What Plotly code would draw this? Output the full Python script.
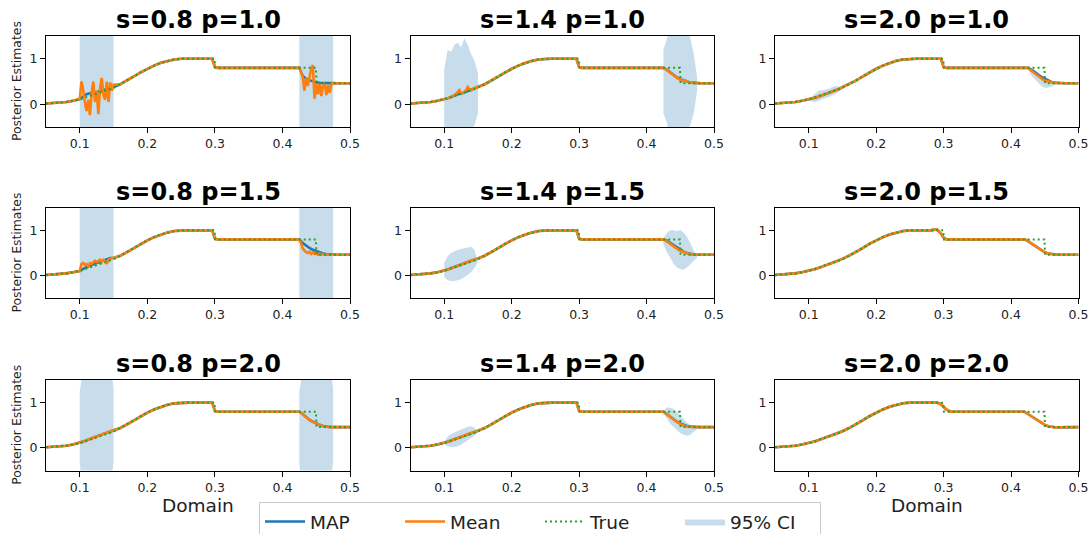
import plotly.graph_objects as go

# ---------------- data ----------------
PANEL_TITLES = ["s=0.8 p=1.0", "s=1.4 p=1.0", "s=2.0 p=1.0",
                "s=0.8 p=1.5", "s=1.4 p=1.5", "s=2.0 p=1.5",
                "s=0.8 p=2.0", "s=1.4 p=2.0", "s=2.0 p=2.0"]

X_TICKS = [0.1, 0.2, 0.3, 0.4, 0.5]
X_TICK_LABELS = ["0.1", "0.2", "0.3", "0.4", "0.5"]
Y_TICKS = [0, 1]
Y_TICK_LABELS = ["0", "1"]

TRUE_X = [0.05, 0.06, 0.07, 0.08, 0.09, 0.10, 0.15, 0.16, 0.17, 0.18, 0.19, 0.20,
          0.21, 0.22, 0.23, 0.24, 0.25, 0.2995, 0.3005, 0.4495, 0.4505, 0.50]
TRUE_Y = [0.015, 0.025, 0.035, 0.05, 0.075, 0.105, 0.36, 0.44, 0.52, 0.61, 0.70, 0.78,
          0.85, 0.91, 0.955, 0.985, 1.0, 1.0, 0.8, 0.8, 0.46, 0.46]

# shared estimate pieces outside the two uncertain windows
BASE_L_X = [0.05, 0.06, 0.07, 0.08, 0.09]
BASE_L_Y = [0.015, 0.025, 0.035, 0.05, 0.075]
BASE_M1_X = [0.16, 0.17, 0.18, 0.19, 0.20, 0.21, 0.22, 0.23, 0.24, 0.25, 0.26, 0.27, 0.28]
BASE_M1_Y = [0.44, 0.52, 0.61, 0.70, 0.78, 0.85, 0.91, 0.955, 0.985, 1.0, 1.0, 1.0, 1.0]
BASE_M2_X = [0.32, 0.33, 0.34, 0.35, 0.36, 0.37, 0.38, 0.39, 0.40, 0.41, 0.42]
BASE_M2_Y = [0.80, 0.80, 0.81, 0.80, 0.80, 0.80, 0.80, 0.81, 0.80, 0.80, 0.80]
BASE_R_X = [0.48, 0.49, 0.50]
BASE_R_Y = [0.46, 0.46, 0.46]

JUMP_X = [0.29, 0.296, 0.300, 0.304, 0.31]
JUMP_Y = [
    [1.0, 1.0, 0.82, 0.80, 0.80], [1.0, 1.0, 0.82, 0.80, 0.80], [1.0, 1.0, 0.82, 0.80, 0.80],
    [1.0, 1.0, 0.82, 0.80, 0.80], [1.0, 1.0, 0.82, 0.80, 0.80], [1.02, 0.93, 0.84, 0.80, 0.80],
    [1.0, 1.0, 0.82, 0.80, 0.80], [1.0, 1.0, 0.82, 0.80, 0.80], [1.0, 0.965, 0.91, 0.85, 0.80],
]

W1_X = [0.1, 0.1025, 0.105, 0.1075, 0.11, 0.1125, 0.115, 0.1175, 0.12, 0.1225, 0.125,
        0.1275, 0.13, 0.1325, 0.135, 0.1375, 0.14, 0.1425, 0.145, 0.1475, 0.15]
W2_X = [0.425, 0.4275, 0.43, 0.4325, 0.435, 0.4375, 0.44, 0.4425, 0.445, 0.4475, 0.45,
        0.4525, 0.455, 0.4575, 0.46, 0.4625, 0.465, 0.4675, 0.47, 0.4725, 0.475]
W1_XC = [0.100, 0.105, 0.110, 0.115, 0.120, 0.125, 0.130, 0.135, 0.140, 0.145, 0.150]
W2_XC = [0.425, 0.430, 0.435, 0.440, 0.445, 0.450, 0.455, 0.460, 0.465, 0.470, 0.475]

MEAN_W1 = [
    [0.12, 0.50, 0.32, 0.05, -0.15, 0.10, -0.24, 0.24, 0.50, 0.05, 0.30, -0.22, 0.35, 0.58, 0.20, 0.10, 0.50, 0.05, 0.48, 0.30, 0.43],
    [0.105, 0.115, 0.13, 0.145, 0.16, 0.18, 0.20, 0.23, 0.27, 0.31, 0.23, 0.25, 0.27, 0.31, 0.38, 0.33, 0.31, 0.33, 0.35, 0.36, 0.385],
    [0.105, 0.115, 0.125, 0.135, 0.145, 0.158, 0.17, 0.183, 0.196, 0.209, 0.222, 0.236, 0.25, 0.264, 0.278, 0.292, 0.306, 0.32, 0.334, 0.35, 0.375],
    [0.10, 0.26, 0.28, 0.24, 0.26, 0.20, 0.28, 0.26, 0.30, 0.33, 0.30, 0.33, 0.35, 0.30, 0.35, 0.32, 0.26, 0.35, 0.38, 0.39, 0.39],
    [0.105, 0.12, 0.135, 0.15, 0.165, 0.18, 0.195, 0.21, 0.225, 0.24, 0.255, 0.268, 0.281, 0.294, 0.307, 0.32, 0.333, 0.346, 0.358, 0.37, 0.38],
    [0.105, 0.115, 0.126, 0.137, 0.148, 0.16, 0.172, 0.185, 0.198, 0.211, 0.224, 0.238, 0.252, 0.266, 0.28, 0.294, 0.308, 0.322, 0.336, 0.352, 0.37],
    [0.11, 0.125, 0.14, 0.155, 0.17, 0.185, 0.20, 0.215, 0.23, 0.245, 0.26, 0.273, 0.286, 0.299, 0.312, 0.325, 0.338, 0.35, 0.362, 0.375, 0.39],
    [0.105, 0.12, 0.135, 0.15, 0.165, 0.18, 0.194, 0.208, 0.222, 0.236, 0.25, 0.263, 0.276, 0.289, 0.302, 0.315, 0.328, 0.341, 0.354, 0.367, 0.38],
    [0.105, 0.116, 0.127, 0.138, 0.15, 0.162, 0.174, 0.187, 0.2, 0.213, 0.226, 0.24, 0.254, 0.268, 0.282, 0.296, 0.31, 0.324, 0.338, 0.353, 0.37],
]
MEAN_W2 = [
    [0.80, 0.72, 0.60, 0.30, 0.58, 0.40, 0.62, 0.78, 0.86, 0.12, 0.45, 0.22, 0.46, 0.18, 0.40, 0.47, 0.20, 0.42, 0.25, 0.44, 0.47],
    [0.80, 0.78, 0.75, 0.72, 0.68, 0.66, 0.63, 0.60, 0.58, 0.56, 0.54, 0.53, 0.51, 0.52, 0.50, 0.49, 0.48, 0.48, 0.47, 0.465, 0.46],
    [0.80, 0.77, 0.74, 0.70, 0.67, 0.64, 0.61, 0.585, 0.56, 0.54, 0.52, 0.51, 0.50, 0.49, 0.48, 0.475, 0.47, 0.467, 0.465, 0.462, 0.46],
    [0.79, 0.72, 0.60, 0.55, 0.52, 0.50, 0.53, 0.48, 0.52, 0.48, 0.50, 0.46, 0.49, 0.46, 0.48, 0.46, 0.47, 0.46, 0.46, 0.46, 0.46],
    [0.80, 0.78, 0.76, 0.73, 0.70, 0.67, 0.64, 0.615, 0.59, 0.57, 0.55, 0.535, 0.52, 0.505, 0.49, 0.48, 0.475, 0.47, 0.465, 0.462, 0.46],
    [0.76, 0.735, 0.71, 0.68, 0.65, 0.625, 0.60, 0.575, 0.55, 0.53, 0.515, 0.502, 0.49, 0.482, 0.475, 0.47, 0.465, 0.462, 0.46, 0.46, 0.46],
    [0.80, 0.77, 0.74, 0.70, 0.66, 0.635, 0.61, 0.59, 0.57, 0.552, 0.535, 0.517, 0.50, 0.49, 0.48, 0.472, 0.465, 0.462, 0.46, 0.46, 0.46],
    [0.80, 0.77, 0.74, 0.71, 0.68, 0.65, 0.62, 0.59, 0.565, 0.545, 0.525, 0.51, 0.495, 0.485, 0.475, 0.47, 0.465, 0.462, 0.46, 0.46, 0.46],
    [0.75, 0.725, 0.70, 0.675, 0.65, 0.625, 0.60, 0.575, 0.55, 0.53, 0.51, 0.495, 0.48, 0.47, 0.465, 0.46, 0.457, 0.455, 0.455, 0.455, 0.455],
]

MAP_W1 = [
    [0.11, 0.17, 0.22, 0.24, 0.25, 0.27, 0.29, 0.31, 0.33, 0.36, 0.38],
    [0.105, 0.13, 0.16, 0.19, 0.22, 0.23, 0.26, 0.29, 0.31, 0.34, 0.38],
    [0.105, 0.125, 0.145, 0.17, 0.196, 0.222, 0.25, 0.278, 0.306, 0.334, 0.375],
    [0.10, 0.15, 0.19, 0.22, 0.25, 0.28, 0.31, 0.34, 0.37, 0.39, 0.39],
    [0.105, 0.135, 0.165, 0.195, 0.225, 0.255, 0.281, 0.307, 0.333, 0.358, 0.38],
    [0.105, 0.126, 0.148, 0.172, 0.198, 0.224, 0.252, 0.28, 0.308, 0.336, 0.37],
    [0.11, 0.14, 0.17, 0.20, 0.23, 0.26, 0.286, 0.312, 0.338, 0.362, 0.39],
    [0.105, 0.135, 0.165, 0.194, 0.222, 0.25, 0.276, 0.302, 0.328, 0.354, 0.38],
    [0.105, 0.127, 0.15, 0.174, 0.2, 0.226, 0.254, 0.282, 0.31, 0.338, 0.37],
]
MAP_W2 = [
    [0.80, 0.62, 0.56, 0.53, 0.50, 0.48, 0.47, 0.465, 0.46, 0.46, 0.46],
    [0.80, 0.76, 0.70, 0.64, 0.59, 0.55, 0.52, 0.50, 0.48, 0.47, 0.46],
    [0.80, 0.76, 0.70, 0.65, 0.60, 0.56, 0.52, 0.49, 0.475, 0.465, 0.46],
    [0.80, 0.72, 0.66, 0.61, 0.57, 0.54, 0.51, 0.49, 0.475, 0.465, 0.46],
    [0.80, 0.77, 0.72, 0.66, 0.61, 0.57, 0.53, 0.50, 0.48, 0.467, 0.46],
    [0.76, 0.71, 0.65, 0.60, 0.55, 0.515, 0.49, 0.475, 0.465, 0.46, 0.46],
    [0.80, 0.75, 0.68, 0.62, 0.58, 0.54, 0.51, 0.485, 0.47, 0.462, 0.46],
    [0.80, 0.75, 0.69, 0.63, 0.58, 0.54, 0.51, 0.485, 0.47, 0.462, 0.46],
    [0.75, 0.70, 0.65, 0.60, 0.55, 0.51, 0.48, 0.465, 0.457, 0.455, 0.455],
]

CI_W1_LO = [
    [-3, -3, -3, -3, -3, -3, -3, -3, -3, -3, -3],
    [-0.9, -1.2, -1.0, -1.1, -1.0, -0.9, -0.8, -0.7, -0.6, -0.45, -0.2],
    [0.09, 0.06, 0.05, 0.07, 0.11, 0.14, 0.16, 0.19, 0.23, 0.28, 0.36],
    [-3, -3, -3, -3, -3, -3, -3, -3, -3, -3, -3],
    [-0.02, -0.10, -0.12, -0.12, -0.10, -0.08, -0.03, 0.02, 0.08, 0.17, 0.30],
    [0.10, 0.118, 0.138, 0.16, 0.186, 0.213, 0.242, 0.27, 0.298, 0.326, 0.365],
    [-0.35, -1.0, -1.2, -1.3, -1.3, -1.3, -1.3, -1.3, -1.2, -1.0, -0.3],
    [0.08, 0.04, 0.02, 0.02, 0.04, 0.07, 0.11, 0.16, 0.22, 0.27, 0.34],
    [0.10, 0.122, 0.145, 0.169, 0.195, 0.221, 0.249, 0.277, 0.305, 0.333, 0.365],
]
CI_W1_HI = [
    [4, 4, 4, 4, 4, 4, 4, 4, 4, 4, 4],
    [0.76, 1.2, 1.15, 1.3, 1.35, 1.25, 1.45, 1.3, 1.1, 0.95, 0.68],
    [0.11, 0.17, 0.25, 0.30, 0.31, 0.32, 0.34, 0.38, 0.40, 0.39, 0.38],
    [4, 4, 4, 4, 4, 4, 4, 4, 4, 4, 4],
    [0.28, 0.42, 0.50, 0.54, 0.57, 0.59, 0.61, 0.63, 0.64, 0.57, 0.35],
    [0.11, 0.135, 0.16, 0.185, 0.21, 0.235, 0.262, 0.29, 0.318, 0.346, 0.375],
    [1.25, 2.0, 2.2, 2.3, 2.3, 2.3, 2.3, 2.3, 2.2, 2.0, 1.3],
    [0.13, 0.25, 0.31, 0.34, 0.37, 0.40, 0.44, 0.47, 0.48, 0.44, 0.36],
    [0.11, 0.132, 0.155, 0.179, 0.205, 0.231, 0.259, 0.287, 0.315, 0.343, 0.375],
]
CI_W2_LO = [
    [-3, -3, -3, -3, -3, -3, -3, -3, -3, -3, -3],
    [-0.2, -0.4, -0.7, -0.9, -0.8, -0.9, -0.8, -0.7, -0.5, -0.2, 0.3],
    [0.78, 0.64, 0.56, 0.48, 0.40, 0.36, 0.36, 0.39, 0.42, 0.45, 0.46],
    [-3, -3, -3, -3, -3, -3, -3, -3, -3, -3, -3],
    [0.70, 0.52, 0.40, 0.26, 0.18, 0.14, 0.13, 0.18, 0.25, 0.33, 0.40],
    [0.755, 0.70, 0.645, 0.595, 0.55, 0.51, 0.485, 0.47, 0.462, 0.458, 0.458],
    [-0.35, -1.0, -1.2, -1.3, -1.3, -1.3, -1.3, -1.3, -1.2, -1.0, -0.3],
    [0.76, 0.64, 0.54, 0.46, 0.39, 0.33, 0.29, 0.27, 0.29, 0.36, 0.42],
    [0.745, 0.695, 0.645, 0.595, 0.545, 0.505, 0.475, 0.46, 0.452, 0.452, 0.452],
]
CI_W2_HI = [
    [4, 4, 4, 4, 4, 4, 4, 4, 4, 4, 4],
    [1.2, 1.5, 1.8, 1.9, 2.0, 1.9, 1.8, 1.7, 1.45, 1.1, 0.6],
    [0.80, 0.80, 0.76, 0.70, 0.62, 0.56, 0.51, 0.48, 0.47, 0.46, 0.46],
    [4, 4, 4, 4, 4, 4, 4, 4, 4, 4, 4],
    [0.82, 0.94, 1.0, 1.0, 0.98, 1.01, 0.95, 0.86, 0.72, 0.55, 0.45],
    [0.77, 0.725, 0.67, 0.625, 0.58, 0.54, 0.51, 0.487, 0.47, 0.462, 0.46],
    [1.25, 2.0, 2.2, 2.3, 2.3, 2.3, 2.3, 2.3, 2.2, 2.0, 1.3],
    [0.80, 0.90, 0.89, 0.86, 0.80, 0.71, 0.63, 0.56, 0.51, 0.47, 0.44],
    [0.755, 0.705, 0.655, 0.605, 0.555, 0.515, 0.485, 0.47, 0.462, 0.458, 0.458],
]

# ---------------- layout geometry ----------------
W, H = 1089, 534
COL_PX = [(46, 350), (410.5, 714), (775, 1078.5)]
ROW_PX = [(36, 127), (207.7, 298.3), (380, 470.6)]

C_MAP = "#1f77b4"
C_MEAN = "#ff7f0e"
C_TRUE = "#2ca02c"
C_CI = "rgba(31,119,180,0.25)"
FONT = "DejaVu Sans"

fig = go.Figure()
layout_axes = {}
annotations = []

for i in range(9):
    r, c = divmod(i, 3)
    k = i + 1
    xa = "x" if k == 1 else f"x{k}"
    ya = "y" if k == 1 else f"y{k}"
    show = (i == 0)

    # CI bands (two windows)
    for j, (xs, lo, hi) in enumerate([(W1_XC, CI_W1_LO[i], CI_W1_HI[i]),
                                      (W2_XC, CI_W2_LO[i], CI_W2_HI[i])]):
        fig.add_trace(go.Scatter(
            x=xs + xs[::-1], y=hi + lo[::-1], fill="toself", fillcolor=C_CI,
            line=dict(width=0, color=C_CI), mode="lines", name="95% CI",
            legendgroup="ci", showlegend=(show and j == 0), legendrank=4,
            hoverinfo="skip", xaxis=xa, yaxis=ya))

    map_x = BASE_L_X + W1_XC + BASE_M1_X + JUMP_X + BASE_M2_X + W2_XC + BASE_R_X
    map_y = BASE_L_Y + MAP_W1[i] + BASE_M1_Y + JUMP_Y[i] + BASE_M2_Y + MAP_W2[i] + BASE_R_Y
    fig.add_trace(go.Scatter(x=map_x, y=map_y, mode="lines", name="MAP",
                             line=dict(color=C_MAP, width=2.6), legendgroup="map",
                             showlegend=show, legendrank=1, xaxis=xa, yaxis=ya))

    mean_x = BASE_L_X + W1_X + BASE_M1_X + JUMP_X + BASE_M2_X + W2_X + BASE_R_X
    mean_y = BASE_L_Y + MEAN_W1[i] + BASE_M1_Y + JUMP_Y[i] + BASE_M2_Y + MEAN_W2[i] + BASE_R_Y
    fig.add_trace(go.Scatter(x=mean_x, y=mean_y, mode="lines", name="Mean",
                             line=dict(color=C_MEAN, width=2.6), legendgroup="mean",
                             showlegend=show, legendrank=2, xaxis=xa, yaxis=ya))

    fig.add_trace(go.Scatter(x=TRUE_X, y=TRUE_Y, mode="lines", name="True",
                             line=dict(color=C_TRUE, width=2, dash="2px,3px"),
                             legendgroup="true", showlegend=show, legendrank=3,
                             xaxis=xa, yaxis=ya))

    x0, x1 = COL_PX[c]
    y0, y1 = ROW_PX[r]
    axis_common = dict(showline=True, mirror=True, linecolor="black", linewidth=1,
                       ticks="outside", ticklen=5, tickwidth=1, tickcolor="black",
                       showgrid=False, zeroline=False,
                       tickfont=dict(family=FONT, size=12.5, color="#222"))
    layout_axes["xaxis" if k == 1 else f"xaxis{k}"] = dict(
        domain=[x0 / W, x1 / W], anchor=ya, range=[0.05, 0.5],
        tickvals=X_TICKS, ticktext=X_TICK_LABELS, **axis_common)
    layout_axes["yaxis" if k == 1 else f"yaxis{k}"] = dict(
        domain=[1 - y1 / H, 1 - y0 / H], anchor=xa, range=[-0.5, 1.5],
        tickvals=Y_TICKS, ticktext=Y_TICK_LABELS, **axis_common)

    annotations.append(dict(
        text=f"<b>{PANEL_TITLES[i]}</b>", x=(x0 + x1) / 2 / W, y=1 - (y0 - 16) / H,
        xref="paper", yref="paper", xanchor="center", yanchor="middle",
        showarrow=False, font=dict(family=FONT, size=24, color="black")))

    if c == 0:
        annotations.append(dict(
            text="Posterior Estimates", x=16.5 / W, y=1 - (y0 + y1) / 2 / H,
            xref="paper", yref="paper", xanchor="center", yanchor="middle",
            textangle=-90, showarrow=False,
            font=dict(family=FONT, size=12.4, color="#222")))

for c in (0, 2):
    x0, x1 = COL_PX[c]
    annotations.append(dict(
        text="Domain", x=(x0 + x1) / 2 / W, y=1 - 505 / H, xref="paper", yref="paper",
        xanchor="center", yanchor="middle", showarrow=False,
        font=dict(family=FONT, size=18.5, color="#222")))

fig.update_layout(
    width=W, height=H, margin=dict(l=0, r=0, t=0, b=0, autoexpand=False),
    paper_bgcolor="white", plot_bgcolor="white",
    annotations=annotations,
    legend=dict(orientation="h", x=259 / W, xanchor="left", y=1 - 502 / H, yanchor="top",
                bgcolor="white", bordercolor="#cccccc", borderwidth=1,
                font=dict(family=FONT, size=18.5, color="#222"),
                itemwidth=40, entrywidth=85, traceorder="normal"),
    **layout_axes,
)

fig.write_html("out.html")
